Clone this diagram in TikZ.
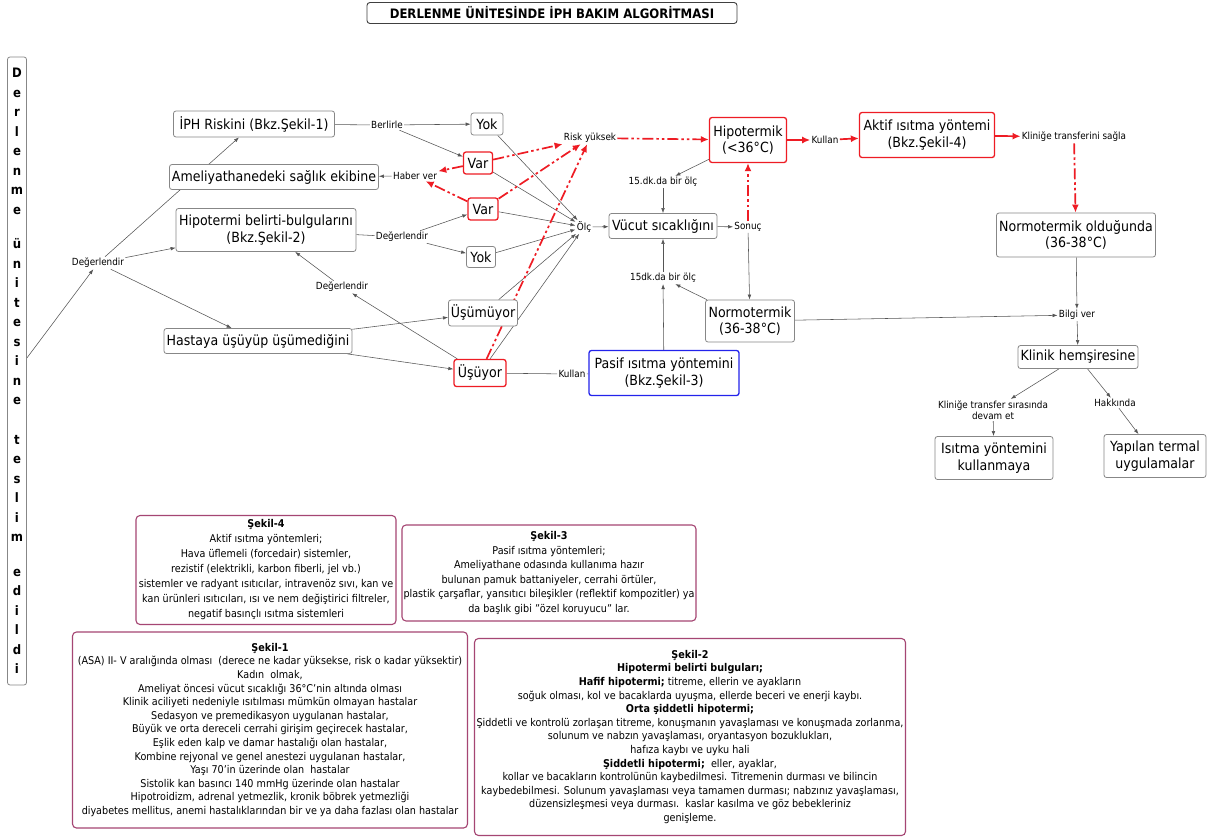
\documentclass[tikz,border=0pt]{standalone}
\usepackage{fontspec}
\setmainfont{DejaVu Sans}[FakeStretch=0.9]
\usetikzlibrary{arrows.meta}
\pgfdeclarelayer{bg}
\pgfsetlayers{bg,main}
\definecolor{boxgray}{RGB}{135,135,135}
\definecolor{linegray}{RGB}{85,85,85}
\definecolor{myred}{RGB}{238,28,36}
\definecolor{myblue}{RGB}{35,35,235}
\definecolor{sekilc}{RGB}{165,70,115}
\tikzset{
 box/.style={draw=boxgray, rounded corners=2.5pt, fill=white, line width=0.8pt, align=center, inner sep=1pt, font=\fontsize{14}{16.5}\selectfont},
 redbox/.style={box, draw=myred, line width=1.3pt},
 bluebox/.style={box, draw=myblue, line width=1.3pt},
 lbl/.style={inner sep=1.2pt, align=center, font=\fontsize{9.8}{11.5}\selectfont},
 conn/.style={draw=linegray, line width=0.55pt, -{Latex[length=5pt,width=3.6pt]}},
 plainc/.style={draw=linegray, line width=0.55pt},
 redc/.style={draw=myred, line width=1.7pt, dash pattern=on 11pt off 3pt on 2.5pt off 3pt on 2.5pt off 3pt, -{Latex[length=8pt,width=7pt]}},
 reds/.style={draw=myred, line width=1.7pt, -{Latex[length=8pt,width=7pt]}},
 sekil/.style={draw=sekilc, rounded corners=4pt, line width=1.1pt, fill=white, align=center, inner sep=1.5pt, font=\fontsize{10.7}{13.6}\selectfont},
}
\begin{document}
\begin{tikzpicture}[x=1pt,y=-1pt]
\begin{pgfonlayer}{bg}
\fill[white] (0,0) rectangle (1211,838);
\end{pgfonlayer}
\useasboundingbox (0,0) rectangle (1211,838);

% title
\node[draw=black!75, rounded corners=3pt, line width=0.9pt, minimum width=370pt, minimum height=21pt, inner sep=1pt, font=\fontsize{13}{15}\selectfont\bfseries] (title) at (552,13) {DERLENME ÜNİTESİNDE İPH BAKIM ALGORİTMASI};

% side box
\node[draw=boxgray, rounded corners=2.5pt, line width=0.8pt, minimum width=19pt, minimum height=628pt, inner sep=0pt, align=center, font=\fontsize{13}{19.5}\selectfont\bfseries] (side) at (17,371)
 {D\\e\\r\\l\\e\\n\\m\\e\\[15pt]ü\\n\\i\\t\\e\\s\\i\\n\\e\\[20pt]t\\e\\s\\l\\i\\m\\[15pt]e\\d\\i\\l\\d\\i};

% left column
\node[box, minimum width=161pt, minimum height=26pt] (iph) at (254,124) {İPH Riskini (Bkz.Şekil-1)};
\node[box, minimum width=209pt, minimum height=25pt] (amel) at (274,177) {Ameliyathanedeki sağlık ekibine};
\node[box, minimum width=180pt, minimum height=43pt] (hip) at (266,230) {Hipotermi belirti-bulgularını\\(Bkz.Şekil-2)};
\node[box, minimum width=188pt, minimum height=25pt] (hasta) at (258,341) {Hastaya üşüyüp üşümediğini};

\node[lbl] (dl) at (98,263) {Değerlendir};
\node[lbl] (d2) at (402,237) {Değerlendir};
\node[lbl] (d3) at (342,287) {Değerlendir};
\node[lbl] (berl) at (387,125) {Berlirle};
\node[lbl] (haber) at (415,176) {Haber ver};

% middle column
\node[box, minimum width=32pt, minimum height=22pt] (yok1) at (487,124) {Yok};
\node[redbox, minimum width=29pt, minimum height=22pt] (var1) at (478,163) {Var};
\node[redbox, minimum width=30pt, minimum height=22pt] (var2) at (483,209) {Var};
\node[box, minimum width=29pt, minimum height=21pt] (yok2) at (481,257) {Yok};
\node[box, minimum width=69pt, minimum height=26pt] (usumuyor) at (483,313) {Üşümüyor};
\node[redbox, minimum width=52pt, minimum height=27pt] (usuyor) at (480,373) {Üşüyor};

\node[lbl] (risk) at (590,138) {Risk yüksek};
\node[lbl] (olc) at (584,227) {Ölç};
\node[lbl] (kul2) at (572,374) {Kullan};

% centre
\node[box, minimum width=108pt, minimum height=25pt] (vucut) at (663,226) {Vücut sıcaklığını};
\node[lbl] (dk1) at (663,182) {15.dk.da bir ölç};
\node[lbl] (dk2) at (663,278) {15dk.da bir ölç};
\node[lbl] (sonuc) at (748,227) {Sonuç};
\node[redbox, minimum width=77pt, minimum height=45pt] (hipk) at (748,140) {Hipotermik\\(<36°C)};
\node[box, minimum width=89pt, minimum height=42pt] (normo) at (750,321) {Normotermik\\(36-38°C)};
\node[bluebox, minimum width=150pt, minimum height=45pt] (pasif) at (664,373) {Pasif ısıtma yöntemini\\(Bkz.Şekil-3)};

% right
\node[lbl] (kul1) at (825,140) {Kullan};
\node[redbox, minimum width=135pt, minimum height=45pt] (aktif) at (927,135) {Aktif ısıtma yöntemi\\(Bkz.Şekil-4)};
\node[lbl] (klsag) at (1074,137) {Kliniğe transferini sağla};
\node[box, minimum width=159pt, minimum height=44pt] (normold) at (1076,235) {Normotermik olduğunda\\(36-38°C)};
\node[lbl] (bilgi) at (1077,315) {Bilgi ver};
\node[box, minimum width=120pt, minimum height=23pt] (klinik) at (1078,357) {Klinik hemşiresine};
\node[lbl] (kltr) at (993,410) {Kliniğe transfer sırasında\\devam et};
\node[lbl] (hakk) at (1115,403) {Hakkında};
\node[box, minimum width=118pt, minimum height=43pt] (isitma) at (994,458) {Isıtma yöntemini\\kullanmaya};
\node[box, minimum width=102pt, minimum height=43pt] (yapilan) at (1155,456) {Yapılan termal\\uygulamalar};

% Sekil boxes
\node[sekil, minimum width=260pt, minimum height=109pt, font=\fontsize{10.7}{15}\selectfont] (s4) at (266,570) {\textbf{Şekil-4}\\Aktif ısıtma yöntemleri;\\Hava üflemeli (forcedair) sistemler,\\rezistif (elektrikli, karbon fiberli, jel vb.)\\sistemler ve radyant ısıtıcılar, intravenöz sıvı, kan ve\\kan ürünleri ısıtıcıları, ısı ve nem değiştirici filtreler,\\negatif basınçlı ısıtma sistemleri};
\node[sekil, minimum width=294pt, minimum height=96pt, font=\fontsize{10.7}{14.6}\selectfont] (s3) at (549,573) {\textbf{Şekil-3}\\Pasif ısıtma yöntemleri;\\Ameliyathane odasında kullanıma hazır\\bulunan pamuk battaniyeler, cerrahi örtüler,\\plastik çarşaflar, yansıtıcı bileşikler (reflektif kompozitler) ya\\da başlık gibi "özel koruyucu" lar.};
\node[sekil, minimum width=395pt, minimum height=196pt] (s1) at (270,730) {\textbf{Şekil-1}\\(ASA) II- V aralığında olması~~(derece ne kadar yüksekse, risk o kadar yüksektir)\\Kadın~~olmak,\\Ameliyat öncesi vücut sıcaklığı 36°C’nin altında olması\\Klinik aciliyeti nedeniyle ısıtılması mümkün olmayan hastalar\\Sedasyon ve premedikasyon uygulanan hastalar,\\Büyük ve orta dereceli cerrahi girişim geçirecek hastalar,\\Eşlik eden kalp ve damar hastalığı olan hastalar,\\Kombine rejyonal ve genel anestezi uygulanan hastalar,\\Yaşı 70’in üzerinde olan~~hastalar\\Sistolik kan basıncı 140 mmHg üzerinde olan hastalar\\Hipotroidizm, adrenal yetmezlik, kronik böbrek yetmezliği\\diyabetes mellitus, anemi hastalıklarından bir ve ya daha fazlası olan hastalar};
\node[sekil, minimum width=431pt, minimum height=197pt] (s2) at (690,737) {\textbf{Şekil-2}\\\textbf{Hipotermi belirti bulguları;}\\\textbf{Hafif hipotermi;} titreme, ellerin ve ayakların\\soğuk olması, kol ve bacaklarda uyuşma, ellerde beceri ve enerji kaybı.\\\textbf{Orta şiddetli hipotermi;}\\Şiddetli ve kontrolü zorlaşan titreme, konuşmanın yavaşlaması ve konuşmada zorlanma,\\solunum ve nabzın yavaşlaması, oryantasyon bozuklukları,\\hafıza kaybı ve uyku hali\\\textbf{Şiddetli hipotermi;}~~eller, ayaklar,\\kollar ve bacakların kontrolünün kaybedilmesi. Titremenin durması ve bilincin\\kaybedebilmesi. Solunum yavaşlaması veya tamamen durması; nabzınız yavaşlaması,\\düzensizleşmesi veya durması.~~kaslar kasılma ve göz bebekleriniz\\genişleme.};

\begin{pgfonlayer}{bg}
% left
\draw[conn] ([yshift=13pt]side.east) -- (dl);
\draw[conn] (dl) -- (iph);
\draw[conn] (dl) -- (hip);
\draw[conn] (dl) -- (hasta);
\draw[plainc] (iph) -- (berl);
\draw[conn] (berl) -- (yok1);
\draw[conn] (berl) -- (var1);
\draw[conn] (haber) -- (amel);
\draw[plainc] (hip) -- (d2);
\draw[conn] (d2) -- (var2);
\draw[conn] (d2) -- (yok2);
\draw[conn] (usuyor) -- (d3);
\draw[conn] (d3) -- (hip);
\draw[conn] (hasta) -- (usumuyor);
\draw[conn] (hasta) -- (usuyor);
% to Olc
\draw[conn] (yok1) -- (olc);
\draw[conn] (var1) -- (olc);
\draw[conn] (var2) -- (olc);
\draw[conn] (yok2) -- (olc);
\draw[conn] (usumuyor) -- (olc);
\draw[conn] (usuyor) -- (olc);
\draw[conn] (olc) -- (vucut);
\draw[plainc] (usuyor) -- (kul2);
\draw[plainc] (kul2) -- (pasif);
% centre
\draw[conn] (hipk) -- (dk1);
\draw[conn] (dk1) -- (vucut);
\draw[conn] (vucut) -- (sonuc);
\draw[conn] (sonuc) -- (normo);
\draw[conn] (normo) -- (dk2);
\draw[conn] (pasif) -- (dk2);
\draw[conn] (dk2) -- (vucut);
% right
\draw[conn] (normold) -- (bilgi);
\draw[conn] (normo) -- (bilgi);
\draw[conn] (bilgi) -- (klinik);
\draw[conn] (klinik) -- (kltr);
\draw[conn] (kltr) -- (isitma);
\draw[conn] (klinik) -- (hakk);
\draw[conn] (hakk) -- (yapilan);
% red
\draw[redc] (var1) -- (haber);
\draw[redc] (var2) -- (haber);
\draw[redc] (var1) -- (risk);
\draw[redc] (var2) -- (risk);
\draw[redc] (usuyor) -- (risk);
\draw[redc] (risk) -- (hipk);
\draw[redc] (sonuc) -- (hipk);
\draw[reds] (hipk) -- (kul1);
\draw[reds] (kul1) -- (aktif);
\draw[reds] (aktif) -- (klsag);
\draw[redc] (klsag) -- (normold);
\end{pgfonlayer}
\end{tikzpicture}
\end{document}
